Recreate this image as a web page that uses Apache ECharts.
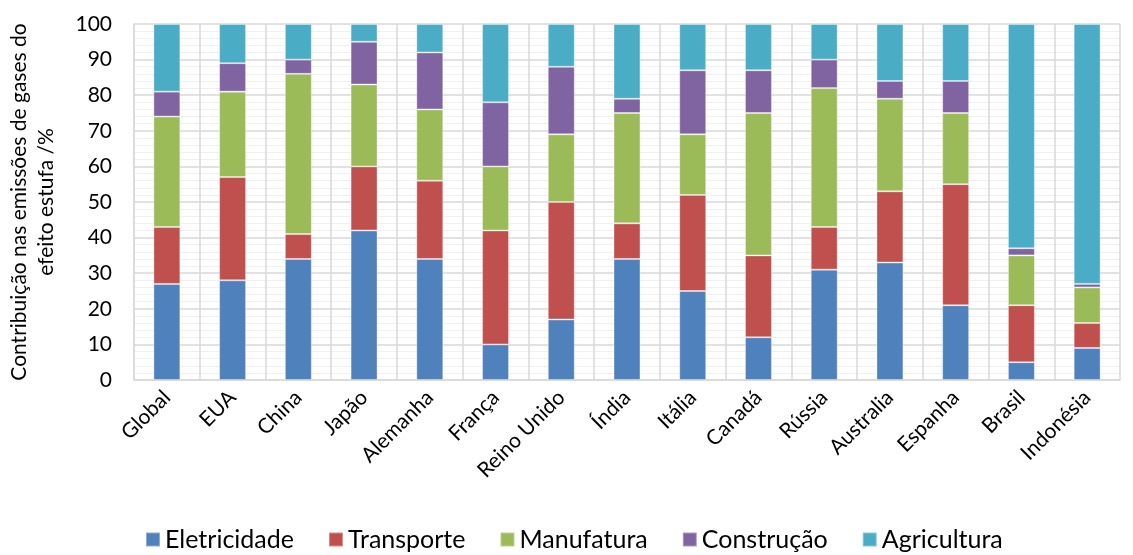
<!DOCTYPE html>
<html>
<head>
<meta charset="utf-8">
<script src="https://cdn.jsdelivr.net/npm/echarts@6/dist/echarts.min.js"></script>
<style>
  html, body { margin: 0; padding: 0; background: #fff; }
  #chart { width: 1133px; height: 555px; }
</style>
</head>
<body>
<div id="chart"></div>
<script>
// Countries / regions
const categories = ['Global', 'EUA', 'China', 'Japão', 'Alemanha', 'França', 'Reino Unido',
  'Índia', 'Itália', 'Canadá', 'Rússia', 'Australia', 'Espanha', 'Brasil', 'Indonésia'];

// Share of greenhouse gas emissions by sector (%)
const eletricidade = [27, 28, 34, 42, 34, 10, 17, 34, 25, 12, 31, 33, 21, 5, 9];
const transporte   = [16, 29, 7, 18, 22, 32, 33, 10, 27, 23, 12, 20, 34, 16, 7];
const manufatura   = [31, 24, 45, 23, 20, 18, 19, 31, 17, 40, 39, 26, 20, 14, 10];
const construcao   = [7, 8, 4, 12, 16, 18, 19, 4, 18, 12, 8, 5, 9, 2, 1];
const agricultura  = [19, 11, 10, 5, 8, 22, 12, 21, 13, 13, 10, 16, 16, 63, 73];

const yTicks = { min: 0, max: 100, interval: 10 };

const seriesDefs = [
  { name: 'Eletricidade', data: eletricidade, color: '#4F81BD' },
  { name: 'Transporte',   data: transporte,   color: '#C0504D' },
  { name: 'Manufatura',   data: manufatura,   color: '#9BBB59' },
  { name: 'Construção',   data: construcao,   color: '#8064A2' },
  { name: 'Agricultura',  data: agricultura,  color: '#4BACC6' }
];

const font = 'Lato, "Open Sans", sans-serif';
const chart = echarts.init(document.getElementById('chart'), null, { renderer: 'canvas' });

chart.setOption({
  animation: false,
  textStyle: { fontFamily: font },
  grid: { left: 134, right: 13, top: 24, bottom: 175, containLabel: false, outerBoundsMode: 'none' },
  legend: {
    top: 527,
    left: 145,
    padding: 0,
    itemWidth: 14,
    itemHeight: 14,
    itemGap: 34,
    icon: 'rect',
    textStyle: { fontSize: 25, color: '#000', fontFamily: font },
    data: seriesDefs.map(s => s.name)
  },
  xAxis: {
    type: 'category',
    data: categories,
    axisLine: { show: true, lineStyle: { color: '#d9d9d9', width: 1.5 } },
    axisTick: { show: false },
    splitLine: { show: true, interval: 0, lineStyle: { color: '#d9d9d9', width: 1.5 } },
    axisLabel: { interval: 0, rotate: 45, fontSize: 21, color: '#000', margin: 14, fontFamily: font }
  },
  yAxis: {
    type: 'value',
    min: yTicks.min,
    max: yTicks.max,
    interval: yTicks.interval,
    name: 'Contribuição nas emissões de gases do\nefeito estufa /%',
    nameLocation: 'middle',
    nameGap: 74,
    nameTextStyle: { fontSize: 21, color: '#000', lineHeight: 27, fontFamily: font },
    axisLine: { show: true, lineStyle: { color: '#d9d9d9', width: 1.5 } },
    axisTick: { show: false },
    axisLabel: { fontSize: 21, color: '#000', margin: 22, fontFamily: font },
    splitLine: { show: true, lineStyle: { color: '#d9d9d9', width: 1.5 } },
    minorTick: { show: false, splitNumber: 5 },
    minorSplitLine: { show: true, lineStyle: { color: '#f0f0f0', width: 1 } }
  },
  series: seriesDefs.map(s => ({
    name: s.name,
    type: 'bar',
    stack: 'total',
    barWidth: '41%',
    data: s.data,
    itemStyle: { color: s.color, borderColor: 'rgba(255,255,255,0.35)', borderWidth: 1 }
  }))
});
</script>
</body>
</html>
